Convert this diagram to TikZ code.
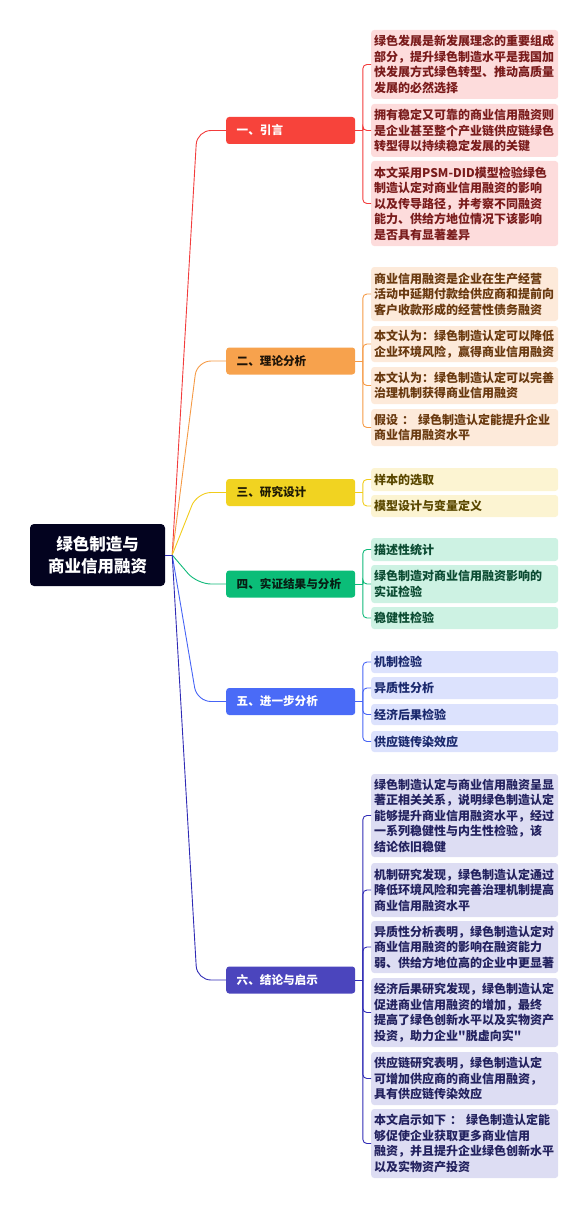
\documentclass[tikz,border=0pt]{standalone}
\usepackage{fontspec}
\setmainfont{Noto Sans CJK SC}
\newfontfamily\plaincjk{Noto Sans CJK SC}
\definecolor{rootfill}{HTML}{03031F}
\definecolor{redbox}{HTML}{F7433B}\definecolor{redink}{HTML}{FFFFFF}
\definecolor{redline}{HTML}{F23C3C}\definecolor{redfill}{HTML}{FDDCDC}\definecolor{redtext}{HTML}{7A1C1C}
\definecolor{orabox}{HTML}{F7A24D}\definecolor{oraink}{HTML}{1E1408}
\definecolor{oraline}{HTML}{F59A45}\definecolor{orafill}{HTML}{FDEADA}\definecolor{oratext}{HTML}{6A3A10}
\definecolor{yelbox}{HTML}{F1D321}\definecolor{yelink}{HTML}{1E1A05}
\definecolor{yelline}{HTML}{F1CC1A}\definecolor{yelfill}{HTML}{FCF4D2}\definecolor{yeltext}{HTML}{5A4800}
\definecolor{grnbox}{HTML}{0BBD78}\definecolor{grnink}{HTML}{071E14}
\definecolor{grnline}{HTML}{10B97A}\definecolor{grnfill}{HTML}{CDF2E3}\definecolor{grntext}{HTML}{0B4B32}
\definecolor{blubox}{HTML}{4A6BF7}\definecolor{bluink}{HTML}{FFFFFF}
\definecolor{bluline}{HTML}{4664F5}\definecolor{blufill}{HTML}{DCE2FD}\definecolor{blutext}{HTML}{1B2A6E}
\definecolor{indbox}{HTML}{4B45BD}\definecolor{indink}{HTML}{FFFFFF}
\definecolor{indline}{HTML}{2F2BB5}\definecolor{indfill}{HTML}{DDDDF3}\definecolor{indtext}{HTML}{23225F}
\tikzset{
  kid/.style={anchor=west, fill=#1fill, text=#1text, rounded corners=3pt,
    text width=181pt, inner xsep=3pt, inner ysep=0pt, align=left,
    font=\fontsize{12}{15.5}\selectfont\bfseries},
  lvl/.style={anchor=west, fill=#1box, text=#1ink, rounded corners=3pt,
    text width=108pt, inner xsep=10.5pt, inner ysep=0pt, minimum height=27pt, align=left,
    font=\fontsize{11.6}{14}\selectfont\bfseries},
  trunk/.style={line width=0.9pt, rounded corners=14pt},
  twig/.style={line width=0.9pt, rounded corners=4pt}
}
\begin{document}
\begin{tikzpicture}[x=1pt,y=-1pt]
\useasboundingbox (0,0) rectangle (588,1209);
% root
\node[fill=rootfill, text=white, rounded corners=4pt, minimum width=135pt, minimum height=62pt,
  inner sep=0pt, align=center, font=\fontsize{16.5}{21.7}\selectfont\bfseries] (root) at (97.5,555) {绿色制造与\\商业信用融资};
\coordinate (rj) at ([xshift=7pt]root.east);
% level 1
\node[lvl=red] (L1) at (226,130.5) {一、引言};
\node[lvl=ora] (L2) at (226,361) {二、理论分析};
\node[lvl=yel] (L3) at (226,492.5) {三、研究设计};
\node[lvl=grn] (L4) at (226,584) {四、实证结果与分析};
\node[lvl=blu] (L5) at (226,701.5) {五、进一步分析};
\node[lvl=ind] (L6) at (226,980) {六、结论与启示};
% red children
\node[kid=red, minimum height=69pt] (r1) at (371,64.5) {绿色发展是新发展理念的重要组成\\部分，提升绿色制造水平是我国加\\快发展方式绿色转型、推动高质量\\发展的必然选择};
\node[kid=red, minimum height=53pt] (r2) at (371,130.5) {拥有稳定又可靠的商业信用融资则\\是企业甚至整个产业链供应链绿色\\转型得以持续稳定发展的关键};
\node[kid=red, minimum height=85pt] (r3) at (371,203.5) {本文采用PSM-DID模型检验绿色\\制造认定对商业信用融资的影响\\以及传导路径，并考察不同融资\\能力、供给方地位情况下该影响\\是否具有显著差异};
% orange children
\node[kid=ora, minimum height=54pt] (o1) at (371,294) {商业信用融资是企业在生产经营\\活动中延期付款给供应商和提前向\\客户收款形成的经营性债务融资};
\node[kid=ora, minimum height=36pt] (o2) at (371,344) {本文认为：绿色制造认定可以降低\\企业环境风险，赢得商业信用融资};
\node[kid=ora, minimum height=37pt] (o3) at (371,385.5) {本文认为：绿色制造认定可以完善\\治理机制获得商业信用融资};
\node[kid=ora, minimum height=37pt] (o4) at (371,427.5) {假设 ： 绿色制造认定能提升企业\\商业信用融资水平};
% yellow children
\node[kid=yel, minimum height=23pt] (y1) at (371,479.5) {样本的选取};
\node[kid=yel, minimum height=22pt] (y2) at (371,506) {模型设计与变量定义};
% green children
\node[kid=grn, minimum height=23pt] (g1) at (371,549.5) {描述性统计};
\node[kid=grn, minimum height=38pt] (g2) at (371,584) {绿色制造对商业信用融资影响的\\实证检验};
\node[kid=grn, minimum height=22pt] (g3) at (371,618) {稳健性检验};
% blue children
\node[kid=blu, minimum height=22pt] (b1) at (371,662) {机制检验};
\node[kid=blu, minimum height=22pt] (b2) at (371,688) {异质性分析};
\node[kid=blu, minimum height=21pt] (b3) at (371,714.5) {经济后果检验};
\node[kid=blu, minimum height=21pt] (b4) at (371,741.5) {供应链传染效应};
% indigo children
\node[kid=ind, minimum height=83pt] (i1) at (371,815.5) {绿色制造认定与商业信用融资呈显\\著正相关关系，说明绿色制造认定\\能够提升商业信用融资水平，经过\\一系列稳健性与内生性检验，该\\结论依旧稳健};
\node[kid=ind, minimum height=54pt] (i2) at (371,890) {机制研究发现，绿色制造认定通过\\降低环境风险和完善治理机制提高\\商业信用融资水平};
\node[kid=ind, minimum height=52pt] (i3) at (371,947) {异质性分析表明，绿色制造认定对\\商业信用融资的影响在融资能力\\弱、供给方地位高的企业中更显著};
\node[kid=ind, minimum height=69pt] (i4) at (371,1012.5) {经济后果研究发现，绿色制造认定\\促进商业信用融资的增加，最终\\提高了绿色创新水平以及实物资产\\投资，助力企业{\plaincjk"脱虚向实"}};
\node[kid=ind, minimum height=53pt] (i5) at (371,1078.5) {供应链研究表明，绿色制造认定\\可增加供应商的商业信用融资，\\具有供应链传染效应};
\node[kid=ind, minimum height=69pt] (i6) at (371,1143.5) {本文启示如下 ： 绿色制造认定能\\够促使企业获取更多商业信用\\融资，并且提升企业绿色创新水平\\以及实物资产投资};
% trunk connectors
\draw[line width=0.9pt, indline] (root.east) -- (rj);
\draw[trunk, redline] (rj) -- ([xshift=-29pt]L1.west) -- (L1.west);
\draw[trunk, oraline] (rj) -- ([xshift=-29pt]L2.west) -- (L2.west);
\draw[trunk, yelline] (rj) -- ([xshift=-29pt]L3.west) -- (L3.west);
\draw[trunk, grnline] (rj) -- ([xshift=-29pt]L4.west) -- (L4.west);
\draw[trunk, bluline] (rj) -- ([xshift=-29pt]L5.west) -- (L5.west);
\draw[trunk, indline] (rj) -- ([xshift=-29pt]L6.west) -- (L6.west);
% brackets
\foreach \L/\c/\kids in {L1/redline/{r1,r2,r3}, L2/oraline/{o1,o2,o3,o4}, L3/yelline/{y1,y2},
  L4/grnline/{g1,g2,g3}, L5/bluline/{b1,b2,b3,b4}, L6/indline/{i1,i2,i3,i4,i5,i6}}{
  \coordinate (j\L) at ([xshift=7.5pt]\L.east);
  \draw[line width=0.9pt, \c] (\L.east) -- (j\L);
  \foreach \k in \kids { \draw[twig, \c] (j\L) |- (\k.west); }
}
\end{tikzpicture}
\end{document}
